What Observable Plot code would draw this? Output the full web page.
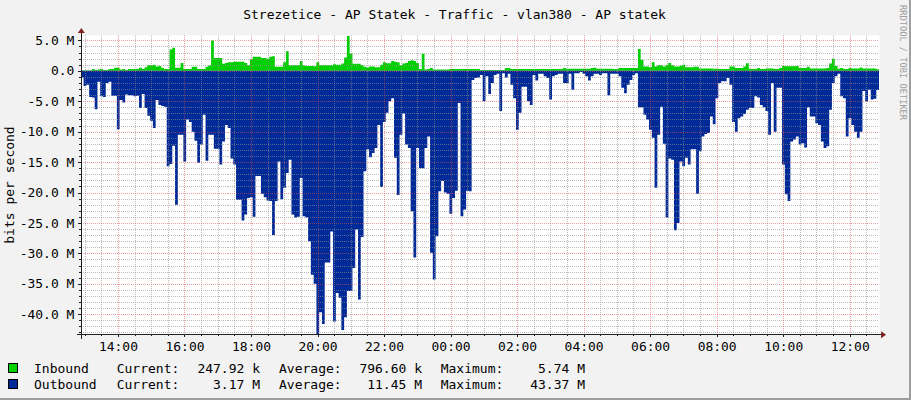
<!DOCTYPE html>
<html><head><meta charset="utf-8">
<script src="https://cdn.jsdelivr.net/npm/d3@7"></script>
<script src="https://cdn.jsdelivr.net/npm/@observablehq/plot@0.6"></script>
<style>
html,body{margin:0;padding:0;background:#F2F2F2;}
#chart{position:relative;width:911px;height:400px;box-sizing:border-box;background:#F2F2F2;overflow:hidden;
  border-right:2px solid #9E9E9E;border-bottom:2px solid #9E9E9E;
  font-family:"DejaVu Sans Mono",monospace;font-size:13px;color:#000;}
#chart svg{position:absolute;left:0;top:0;}
.abs{position:absolute;white-space:pre;line-height:15px;}
</style></head><body><div id="chart"></div>
<script>
// ---------- data (values in Mbit/s, 5-minute samples) ----------
const title = "Strezetice - AP Statek - Traffic - vlan380 - AP statek";
const yLabel = "bits per second";
const credit = "RRDTOOL / TOBI OETIKER";
const startTime = new Date(2024, 0, 1, 12, 53);
const stepMinutes = 5;

const inbound = [
0.1,0.1,0.1,0.1,0.3,0.15,0.2,0.3,0.15,0.15,
0.3,0.3,0.5,0.5,0.2,0.3,0.15,0.3,0.3,0.3,
0.3,0.5,0.3,0.6,0.9,0.9,1.0,0.7,0.8,0.5,
0.3,0.3,3.5,3.8,0.5,0.5,1.3,0.3,0.3,0.3,
0.65,0.65,0.3,0.3,0.3,0.65,0.9,5.0,2.1,2.1,
2.1,1.15,1.3,1.4,1.4,1.5,1.5,1.5,1.5,1.3,
0.9,1.9,2.3,2.3,2.3,2.1,2.1,2.0,2.3,2.4,
0.65,0.65,0.65,1.4,3.2,0.9,0.9,0.9,0.9,1.6,
0.9,0.8,0.8,0.8,0.75,1.4,0.9,0.9,0.9,0.9,
0.9,1.1,1.0,1.0,1.2,2.2,5.74,2.8,1.15,1.15,
1.15,0.9,0.65,0.55,0.7,0.7,0.6,0.6,1.0,1.4,
1.25,1.25,1.6,1.5,1.4,0.9,1.2,1.3,1.6,1.75,
1.6,1.3,0.3,2.8,0.2,0.3,0.45,0.2,0.2,0.2,
0.2,0.2,0.2,0.3,0.3,0.3,0.3,0.3,0.3,0.3,
0.3,0.3,0.3,0.3,
0.15,0.15,0.15,0.15,0.15,0.15,0.15,0.15,0.15,0.45,
0.45,0.3,0.3,0.3,0.3,0.3,0.3,0.3,0.3,0.3,
0.3,0.3,0.3,0.3,0.3,0.3,0.3,0.3,0.3,0.3,
0.45,0.35,0.35,0.35,0.35,0.35,0.35,0.35,0.35,0.35,
0.45,0.5,0.35,0.35,0.35,0.35,0.35,0.35,0.3,0.3,
0.45,0.45,0.45,0.45,0.45,0.45,0.45,3.6,1.8,0.7,
0.7,0.6,1.4,0.7,0.9,0.9,0.7,1.0,1.3,0.9,
0.7,0.7,
0.8,1.0,0.6,0.6,0.6,0.65,0.65,0.4,0.4,0.4,
0.4,0.4,0.35,0.35,0.3,0.3,0.3,0.3,0.7,0.7,
0.45,0.45,0.45,0.7,1.25,0.35,0.3,0.3,0.45,0.3,
0.3,0.4,0.4,0.4,0.3,0.3,0.45,0.8,0.75,0.75,
0.75,0.75,0.8,0.45,0.45,0.45,0.65,0.4,0.4,0.4,
0.4,0.4,0.4,0.45,1.2,2.0,0.8,0.35,0.45,0.3,
0.3,0.45,0.4,0.4,0.4,0.55,0.4,0.4,0.4,0.4,
0.4,0.25
];

const outbound = [
1.1,2.5,2.3,4.3,4.4,6.3,1.8,4.2,4.3,2.0,
1.8,4.1,4.1,9.6,4.8,5.2,3.9,4.0,4.0,4.2,
4.1,6.1,3.8,6.1,7.4,8.2,9.4,4.8,5.6,5.8,
5.9,15.7,15.3,12.3,22.0,10.5,10.5,14.9,8.0,8.4,
10.0,11.5,15.1,12.1,7.2,14.8,10.5,10.5,12.8,12.8,
15.4,11.6,8.9,9.4,14.4,15.4,21.2,21.2,24.6,23.6,
20.9,20.8,24.0,17.3,17.3,20.2,20.8,21.3,21.4,27.0,
21.4,14.9,
21.1,19.2,16.8,14.6,23.6,24.1,24.0,17.6,23.9,24.1,
28.0,33.5,35.0,43.37,39.7,41.6,31.5,31.5,26.4,41.2,
36.5,37.3,42.6,40.5,36.2,36.2,32.4,26.1,37.6,27.3,
16.5,12.9,14.2,13.5,12.7,8.9,19.1,8.4,6.9,5.0,
4.5,14.3,20.4,10.5,7.0,12.1,12.7,23.1,30.7,12.7,
16.0,16.0,12.7,10.8,29.9,34.3,27.2,19.8,18.1,20.0,
20.2,23.5,20.9,19.7,5.3,23.9,22.8,19.7,19.8,1.5,
1.2,1.1,
0.7,5.0,0.9,3.8,2.0,0.7,0.5,6.6,0.4,1.1,
0.5,2.3,4.5,9.7,6.9,2.6,2.6,5.0,5.6,0.7,
1.6,0.5,0.5,0.9,1.2,4.7,0.9,0.7,0.5,0.5,
2.0,2.0,0.5,3.1,0.4,0.4,0.2,0.5,0.9,1.6,
0.9,0.5,0.5,0.7,0.4,0.4,4.0,0.5,0.5,0.5,
0.9,2.8,3.7,2.3,1.5,0.7,0.4,6.0,6.0,7.2,
8.0,9.7,11.0,19.2,10.5,5.9,12.0,24.1,14.4,14.6,
26.2,25.0,
14.9,15.7,14.3,15.4,12.9,12.9,20.2,13.2,10.8,10.4,
10.2,7.5,8.8,4.5,2.0,1.7,1.7,1.2,2.3,8.4,
10.0,7.8,7.5,7.1,6.4,6.1,6.1,4.2,4.4,5.6,
6.0,6.6,10.5,2.0,10.0,2.8,2.8,15.4,20.3,21.4,
11.6,11.3,10.8,12.1,11.9,12.6,6.0,7.5,7.5,8.6,
8.9,11.6,12.7,12.4,6.4,2.0,0.9,0.5,4.2,4.5,
10.8,7.8,8.9,10.0,11.0,10.0,3.3,5.0,3.1,4.7,
4.6,3.17
];

const yTicks = [5, 0, -5, -10, -15, -20, -25, -30, -35, -40];
const yDomain = [-43.3, 5.9];

const legendNames = ["Inbound", "Outbound"];
const legendColors = ["#00CF00", "#002A97"];
const legendCurrent = ["247.92 k", "3.17 M"];
const legendAverage = ["796.60 k", "11.45 M"];
const legendMaximum = ["5.74 M", "43.37 M"];

// ---------- build ----------
const stepMs = stepMinutes * 60e3;
const endTime = new Date(+startTime + 24 * 3600e3);
const rows = outbound.map((o, i) => ({t: new Date(+startTime + i * stepMs), inb: inbound[i], out: o}));
rows.push({t: endTime, inb: inbound[inbound.length - 1], out: outbound[outbound.length - 1]});

const majorX = d3.timeHour.every(2).range(startTime, endTime);
const minorX = d3.timeMinute.every(30).range(startTime, endTime).filter(d => !(d.getMinutes() === 0 && d.getHours() % 2 === 0));
const minorY = d3.range(Math.ceil(yDomain[0]), Math.floor(yDomain[1]) + 1).filter(v => v % 5 !== 0);
const fmtY = v => v === 0 ? "0.0" : v.toFixed(1) + " M";

const gridMinor = {stroke: "#8F8F8F", strokeOpacity: 0.6, strokeDasharray: "1,1", shapeRendering: "crispEdges"};
const gridMajor = {stroke: "#DE4F4F", strokeOpacity: 0.55, strokeDasharray: "1,1", shapeRendering: "crispEdges"};
const axisColor = "#1F1F1F";

const plot = Plot.plot({
  width: 911, height: 355,
  marginLeft: 81, marginRight: 30, marginTop: 35, marginBottom: 20,
  style: {background: "transparent", fontFamily: "DejaVu Sans Mono", fontSize: "13px", overflow: "visible", color: "#000"},
  x: {type: "time", domain: [startTime, endTime]},
  y: {domain: yDomain},
  marks: [
    Plot.frame({fill: "#FFFFFF", stroke: null}),
    Plot.areaY(rows, {x: "t", y: "inb", curve: "step-after", fill: "#00CF00", clip: true}),
    Plot.areaY(rows, {x: "t", y: d => -d.out, curve: "step-after", fill: "#002A97", clip: true}),
    Plot.gridX(minorX, gridMinor),
    Plot.gridY(minorY, gridMinor),
    Plot.gridX(majorX, gridMajor),
    Plot.gridY(yTicks, gridMajor),
    Plot.axisY(minorY, {tickSize: 2, tickFormat: () => "", label: null, stroke: axisColor, shapeRendering: "crispEdges"}),
    Plot.axisY(yTicks, {tickSize: 3, tickPadding: 4, tickFormat: fmtY, label: null, stroke: axisColor, fill: "#000", shapeRendering: "crispEdges"}),
    Plot.axisX(minorX, {tickSize: 2, tickFormat: () => "", label: null, stroke: axisColor, shapeRendering: "crispEdges"}),
    Plot.axisX(majorX, {tickSize: 3, tickPadding: 4, tickFormat: d3.timeFormat("%H:%M"), label: null, stroke: axisColor, fill: "#000", shapeRendering: "crispEdges"})
  ]
});

const chart = document.getElementById("chart");
chart.appendChild(plot);

// axis lines with arrows (RRD style)
const sx = plot.scale("x"), sy = plot.scale("y");
const x0 = Math.round(sx.apply(startTime)), x1 = Math.round(sx.apply(endTime));
const yb = Math.round(sy.apply(yDomain[0])), yt = Math.round(sy.apply(yDomain[1]));
const svg = d3.select(plot);
const g = svg.append("g").attr("shape-rendering", "crispEdges");
g.append("line").attr("x1", x0 + 0.5).attr("x2", x0 + 0.5).attr("y1", yt - 3).attr("y2", yb + 5).attr("stroke", axisColor);
g.append("line").attr("x1", x0 - 4).attr("x2", x1 + 3).attr("y1", yb + 0.5).attr("y2", yb + 0.5).attr("stroke", axisColor);
const ga = svg.append("g");
ga.append("path").attr("d", `M${x0 - 3},${yt - 2}L${x0 + 4},${yt - 2}L${x0 + 0.5},${yt - 7}Z`).attr("fill", "#801F1F");
ga.append("path").attr("d", `M${x1 + 2},${yb - 3}L${x1 + 2},${yb + 4}L${x1 + 7},${yb + 0.5}Z`).attr("fill", "#801F1F");

// title, y label, credit
function addText(txt, css) {
  const d = document.createElement("div");
  d.className = "abs";
  d.textContent = txt;
  Object.assign(d.style, css);
  chart.appendChild(d);
  return d;
}
addText(title, {left: "0px", width: "909px", textAlign: "center", top: "7px"});
addText(yLabel, {left: "9px", top: "185px", transform: "translate(-50%,-50%) rotate(-90deg)"});
addText(credit, {left: "898px", top: "5px", writingMode: "vertical-rl", fontSize: "8.7px", lineHeight: "10px", color: "#9E9E9E"});

// legend
legendNames.forEach((name, i) => {
  const top = 361 + i * 16;
  const sw = document.createElement("div");
  Object.assign(sw.style, {position: "absolute", left: "8px", top: (top + 2) + "px", width: "8px", height: "8px",
    background: legendColors[i], border: "1px solid #000"});
  chart.appendChild(sw);
  addText(name, {left: "34px", top: top + "px"});
  [[116.7, "Current:", legendCurrent[i], 260], [279, "Average:", legendAverage[i], 422], [440.7, "Maximum:", legendMaximum[i], 585]]
    .forEach(([lx, lab, val, rx]) => {
      addText(lab, {left: lx + "px", top: top + "px"});
      addText(val, {left: (rx - 80) + "px", width: "80px", textAlign: "right", top: top + "px"});
    });
});
</script>
</body></html>
